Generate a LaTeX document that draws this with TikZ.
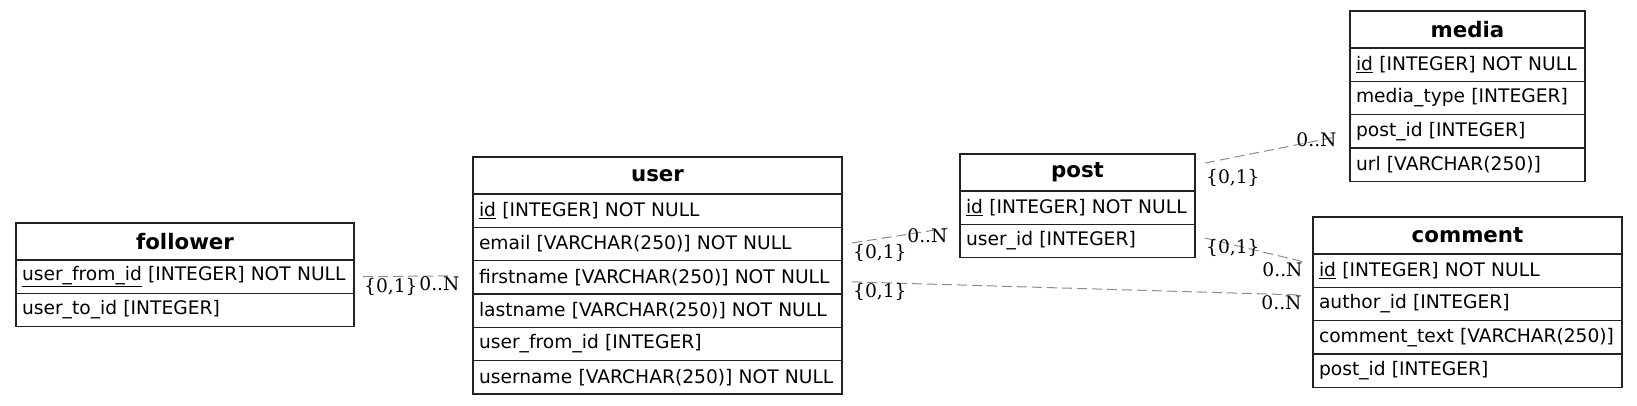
\documentclass[tikz,border=0pt]{standalone}
\usepackage{fontspec}
\usepackage{tikz}
\usetikzlibrary{positioning}
\newfontfamily\tabfont{DejaVu Sans}
\newfontfamily\cardfont{DejaVu Serif}
\definecolor{frame}{RGB}{34,34,34}
\definecolor{link}{RGB}{140,140,140}
\newcommand{\cardtext}{\cardfont\fontsize{14}{16}\selectfont}
\tikzset{
  tabhead/.style={draw=frame, line width=1pt, outer sep=0pt, inner sep=0pt, anchor=north west,
    minimum width=#1, minimum height=27.75pt, font=\tabfont\fontsize{16}{19}\selectfont\bfseries},
  tabrow/.style={draw=frame, line width=1pt, outer sep=0pt, inner xsep=4.5pt, inner ysep=0pt,
    text width=#1, minimum height=25pt, align=left, font=\tabfont\fontsize{14}{17}\selectfont},
  rel/.style={draw=link, line width=0.75pt, dash pattern=on 7.5pt off 3.75pt},
  tailcard/.style={anchor=north west, inner sep=0.5pt, font=\cardtext},
  headcard/.style={anchor=base east, inner sep=0pt, yshift=-11pt, font=\cardtext}
}

\begin{document}
\begin{tikzpicture}[x=0.75pt, y=-0.75pt]
\useasboundingbox (0,0) rectangle (1637,405);
\node[tabhead=253.5pt] (follower) at (16,223) {follower};
\node[tabrow=244.5pt, below=0pt of follower] (follower-from) {\underline{user\_from\_id} [INTEGER] NOT NULL};
\node[tabrow=244.5pt, below=0pt of follower-from] (follower-to) {user\_to\_id [INTEGER]};

\node[tabhead=276.75pt] (user) at (473,157) {user};
\node[tabrow=267.75pt, below=0pt of user] (user-id) {\underline{id} [INTEGER] NOT NULL};
\node[tabrow=267.75pt, below=0pt of user-id] (user-email) {email [VARCHAR(250)] NOT NULL};
\node[tabrow=267.75pt, below=0pt of user-email] (user-first) {firstname [VARCHAR(250)] NOT NULL};
\node[tabrow=267.75pt, below=0pt of user-first] (user-last) {lastname [VARCHAR(250)] NOT NULL};
\node[tabrow=267.75pt, below=0pt of user-last] (user-from) {user\_from\_id [INTEGER]};
\node[tabrow=267.75pt, below=0pt of user-from] (user-name) {username [VARCHAR(250)] NOT NULL};

\node[tabhead=176.25pt] (post) at (960,154) {post};
\node[tabrow=167.25pt, below=0pt of post] (post-id) {\underline{id} [INTEGER] NOT NULL};
\node[tabrow=167.25pt, below=0pt of post-id] (post-uid) {user\_id [INTEGER]};

\node[tabhead=176.25pt] (media) at (1350,11) {media};
\node[tabrow=167.25pt, below=0pt of media] (media-id) {\underline{id} [INTEGER] NOT NULL};
\node[tabrow=167.25pt, below=0pt of media-id] (media-type) {media\_type [INTEGER]};
\node[tabrow=167.25pt, below=0pt of media-type] (media-pid) {post\_id [INTEGER]};
\node[tabrow=167.25pt, below=0pt of media-pid] (media-url) {url [VARCHAR(250)]};

\node[tabhead=231.75pt] (comment) at (1313,217) {comment};
\node[tabrow=222.75pt, below=0pt of comment] (comment-id) {\underline{id} [INTEGER] NOT NULL};
\node[tabrow=222.75pt, below=0pt of comment-id] (comment-author) {author\_id [INTEGER]};
\node[tabrow=222.75pt, below=0pt of comment-author] (comment-text) {comment\_text [VARCHAR(250)]};
\node[tabrow=222.75pt, below=0pt of comment-text] (comment-pid) {post\_id [INTEGER]};

\draw[rel] ([shift={(9,0)}]follower-from.east) -- ([shift={(-21,-1.5)}]user-first.west)
  node[tailcard, at start] {\{0,1\}} node[headcard, at end, xshift=6pt] {0..N};
\draw[rel] ([shift={(10,-1)}]user-email.east) -- ([shift={(-12,-13)}]post-uid.west)
  node[tailcard, at start] {\{0,1\}} node[headcard, at end] {0..N};
\draw[rel] ([shift={(10,4.5)}]user-first.east) -- ([shift={(-11,-9)}]comment-author.west)
  node[tailcard, at start] {\{0,1\}} node[headcard, at end] {0..N};
\draw[rel] ([shift={(10,-3)}]post-uid.east) -- ([shift={(-10,-9)}]comment-id.west)
  node[tailcard, at start] {\{0,1\}} node[headcard, at end] {0..N};
\draw[rel] ([shift={(10,-9.5)}]post.east) -- ([shift={(-13,5.5)}]media-pid.west)
  node[tailcard, at start, yshift=-3.75pt] {\{0,1\}} node[headcard, at end, yshift=3.75pt] {0..N};
\end{tikzpicture}
\end{document}
